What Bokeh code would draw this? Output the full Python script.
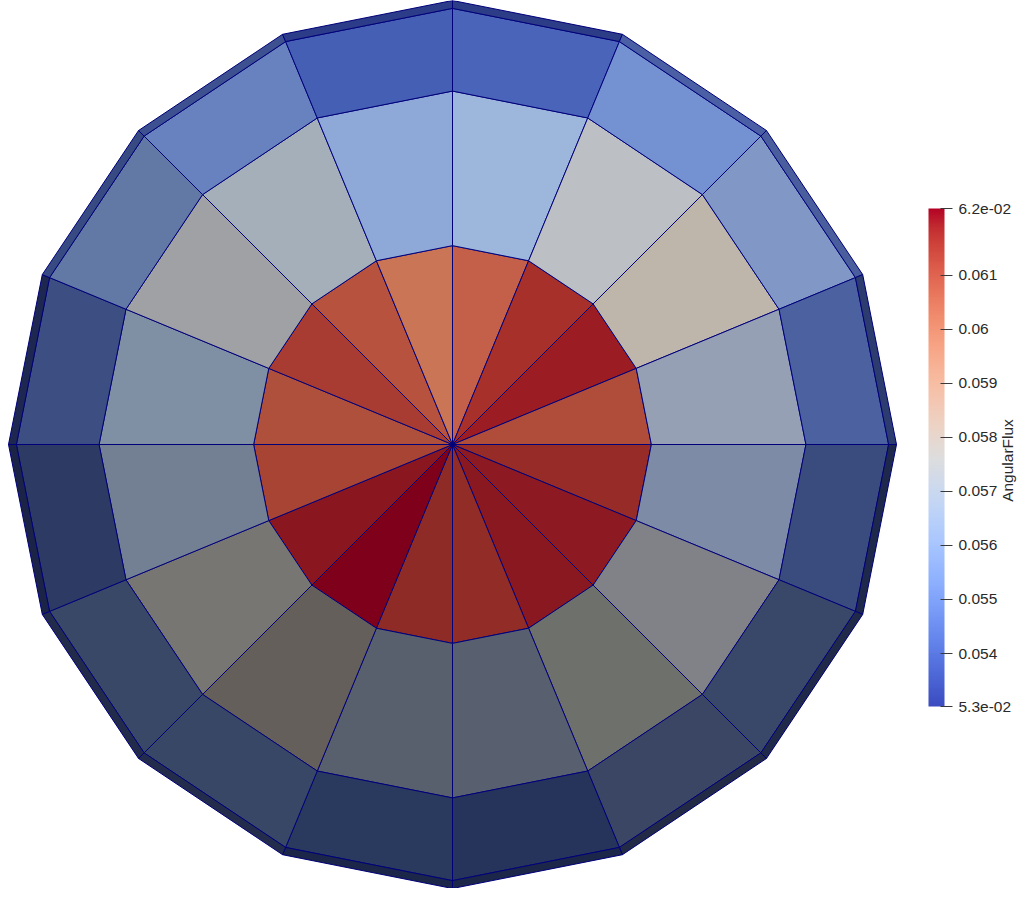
import numpy as np
from bokeh.plotting import figure
from bokeh.models import ColumnDataSource, LinearColorMapper, ColorBar, FixedTicker, Label
from bokeh.embed import file_html
from bokeh.resources import INLINE

# ---- data -------------------------------------------------------------
n_sectors = 16
sector_start_deg = 90.0          # first sector starts at 12 o'clock, clockwise
ring_radii = [0, 202, 359, 443, 451]   # mesh ring boundaries (model units)

# rendered cell colours, clockwise from 12 o'clock, one list per ring
inner_colors = ["#c4604a", "#a8302b", "#9c1c24", "#b04c3a", "#972b28", "#8d1a22",
                "#8a1821", "#922c27", "#8f2b27", "#7e001a", "#8a1720", "#a84434",
                "#af503c", "#a83c32", "#b6523e", "#c97556"]
middle_colors = ["#9db6dc", "#bcc0c4", "#bfb6ab", "#95a0b4", "#7d8ba6", "#808287",
                 "#6e706c", "#58606f", "#58606e", "#655f5b", "#787672", "#738094",
                 "#8090a4", "#a0a1a4", "#a5afba", "#8ea9d8"]
outer_colors = ["#4a64b9", "#7492d2", "#8198c6", "#4b61a0", "#3a4b7d", "#394869",
                "#3b4664", "#26345c", "#2a3a5f", "#394766", "#384866", "#2d3a64",
                "#3c4e82", "#6278a5", "#6782be", "#455fb5"]
rim_colors = ["#2d3c87", "#4b5fa5", "#4a5e9e", "#2d3c6e", "#1e284b", "#202a48",
              "#222a45", "#1c2648", "#1c2648", "#232c4a", "#222b4a", "#1b2446",
              "#1d2750", "#374b82", "#3d5090", "#2d3c88"]
ring_colors = [inner_colors, middle_colors, outer_colors, rim_colors]

flux_low = 0.05302
flux_high = 0.06223
tick_values = [0.05302, 0.054, 0.055, 0.056, 0.057, 0.058, 0.059, 0.06, 0.061, 0.06223]
tick_labels = ["5.3e-02", "0.054", "0.055", "0.056", "0.057", "0.058", "0.059",
               "0.06", "0.061", "6.2e-02"]
colorbar_title = "AngularFlux"

# ParaView "Cool to Warm" control colours (style)
coolwarm_ctrl = [(59, 76, 192), (68, 90, 204), (77, 104, 215), (87, 117, 225), (98, 130, 234),
                 (108, 142, 241), (119, 154, 247), (130, 165, 251), (141, 176, 254),
                 (152, 185, 255), (163, 194, 255), (174, 201, 253), (184, 208, 249),
                 (194, 213, 244), (204, 217, 238), (213, 219, 230), (221, 221, 221),
                 (229, 216, 209), (236, 211, 197), (241, 204, 185), (245, 196, 173),
                 (247, 187, 160), (247, 177, 148), (247, 166, 135), (244, 154, 123),
                 (241, 141, 111), (236, 127, 99), (229, 112, 88), (222, 96, 77),
                 (213, 80, 66), (203, 62, 56), (192, 40, 47), (180, 4, 38)]

# ---- build geometry ----------------------------------------------------
xs, ys, cols = [], [], []
step = 360.0 / n_sectors
for r in range(len(ring_radii) - 1):
    ri, ro = ring_radii[r], ring_radii[r + 1]
    for s in range(n_sectors):
        a0 = np.radians(sector_start_deg - step * s)
        a1 = np.radians(sector_start_deg - step * (s + 1))
        if ri == 0:
            px = [0.0, ro * np.cos(a0), ro * np.cos(a1)]
            py = [0.0, ro * np.sin(a0), ro * np.sin(a1)]
        else:
            px = [ri * np.cos(a0), ro * np.cos(a0), ro * np.cos(a1), ri * np.cos(a1)]
            py = [ri * np.sin(a0), ro * np.sin(a0), ro * np.sin(a1), ri * np.sin(a1)]
        xs.append(px)
        ys.append(py)
        cols.append(ring_colors[r][s])

src = ColumnDataSource(dict(xs=xs, ys=ys, color=cols))

W, H = 1018, 888
scale = 444.0 / 451.0
cx = 452.0
p = figure(width=W, height=H, output_backend="svg", toolbar_location=None,
           x_range=(-cx / scale, (W - cx) / scale), y_range=(-451, 451),
           x_axis_type=None, y_axis_type=None, min_border=0,
           outline_line_color=None, background_fill_color="white")
p.grid.visible = False

p.patches("xs", "ys", source=src, fill_color="color", line_color="#00007a",
          line_width=1)

# ---- colour bar --------------------------------------------------------
c = np.array(coolwarm_ctrl, dtype=float)
t = np.linspace(0, 1, len(c))
tt = np.linspace(0, 1, 256)
palette = ["#%02x%02x%02x" % tuple(int(round(np.interp(v, t, c[:, k]))) for k in range(3))
           for v in tt]
mapper = LinearColorMapper(palette=palette, low=flux_low, high=flux_high)

cb = ColorBar(color_mapper=mapper, ticker=FixedTicker(ticks=tick_values),
              major_label_overrides={v: l for v, l in zip(tick_values, tick_labels)},
              width=16, height=498, padding=0, location=(928, H - 706),
              major_tick_in=4, major_tick_out=8, major_tick_line_color="#3a3a3a",
              major_tick_line_width=1,
              major_label_text_font="Liberation Sans", major_label_text_font_size="15.5px",
              major_label_text_color="#2a2a2a", label_standoff=6,
              bar_line_color=None, border_line_color=None,
              background_fill_color=None, title=None)
p.add_layout(cb)

p.add_layout(Label(x=1007, y=H - 460, x_units="screen", y_units="screen",
                   text=colorbar_title, angle=np.pi / 2, text_align="center",
                   text_baseline="middle", text_font="Liberation Sans",
                   text_font_size="15.5px", text_color="#2a2a2a"))

open("out.html", "w").write(file_html(p, INLINE))
